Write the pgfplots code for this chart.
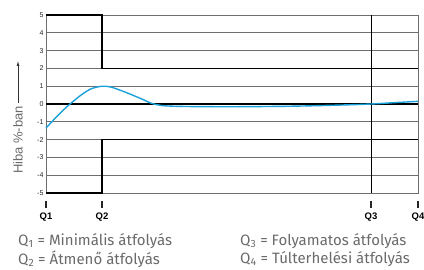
\documentclass[border=0pt]{standalone}
\usepackage{fontspec}
\setmainfont{Liberation Sans}
\newfontfamily\legfont{Fira Sans}
\usepackage{pgfplots}
\pgfplotsset{compat=1.18}
\usetikzlibrary{arrows.meta}
\definecolor{curve}{HTML}{1BA1DB}
\definecolor{leg}{HTML}{6A6A6A}
\definecolor{gridc}{HTML}{6E6E6E}
\begin{document}
\begin{tikzpicture}
\path[use as bounding box] (-46pt,-77pt) rectangle (378pt,193pt);
\begin{axis}[
  name=ax,
  anchor=south west, at={(0pt,0pt)},
  x=1pt, y=17.8pt,
  xmin=0, xmax=372, ymin=-5, ymax=5,
  axis line style={gridc, line width=0.7pt},
  /pgf/number format/assume math mode=true,
  ytick={-5,...,5},
  yticklabel style={font=\fontsize{7}{8}\selectfont, text=black!85, xshift=1pt},
  major tick length=0pt,
  xtick={0,56,325,372},
  xticklabels={\textbf{Q1},\textbf{Q2},\textbf{Q3},\textbf{Q4}},
  xticklabel style={font=\fontsize{9.5}{10}\selectfont, yshift=-16pt, text=black},
  ymajorgrids, grid style={gridc, line width=0.8pt},
  clip=false,
]
% zero line
\addplot[black, line width=1.4pt] coordinates {(0,0) (372,0)};
% Q3 vertical
\addplot[black, line width=0.7pt] coordinates {(325,-5) (325,5)};
% upper limit
\addplot[black, line width=1.6pt] coordinates {(0,5) (56,5) (56,2) (372,2)};
% lower limit
\addplot[black, line width=1.6pt] coordinates {(0,-5) (56,-5) (56,-2) (372,-2)};
% error curve
\addplot[curve, line width=1.4pt, smooth] coordinates {
(0,-1.35) (10,-0.75) (20,-0.2) (24,0) (35,0.5) (45,0.85) (56,1.0) (65,0.95)
(80,0.65) (95,0.3) (105,0.05) (115,-0.08) (130,-0.13) (160,-0.15) (200,-0.15)
(250,-0.12) (300,-0.05) (325,0) (350,0.08) (372,0.15)};
\end{axis}
% tick marks below the axis
\draw[black!85, line width=1.1pt] (0pt,-8pt) -- (0pt,-15pt);
\draw[black!85, line width=1.1pt] (56pt,-8pt) -- (56pt,-15pt);
\draw[black!85, line width=1.1pt] (325pt,-8pt) -- (325pt,-15pt);
\draw[black!85, line width=1.1pt] (372pt,-8pt) -- (372pt,-15pt);
\node[rotate=90, text=leg, font=\fontsize{13}{14}\selectfont] at (-28pt,53pt) {Hiba \%-ban};
\draw[black!80, line width=0.7pt, -{Latex[length=5pt,width=3pt]}] (-28pt,90pt) -- (-28pt,132pt);
\begin{scope}[every node/.style={anchor=west, text=leg, font=\legfont\fontsize{15}{17}\selectfont, inner sep=0pt}]
\node at (-28pt,-48pt) {Q\textsubscript{1} = Minimális átfolyás};
\node at (-28pt,-66pt) {Q\textsubscript{2} = Átmenő átfolyás};
\node at (194pt,-48pt) {Q\textsubscript{3} = Folyamatos átfolyás};
\node at (194pt,-66pt) {Q\textsubscript{4} = Túlterhelési átfolyás};
\end{scope}
\end{tikzpicture}
\end{document}
